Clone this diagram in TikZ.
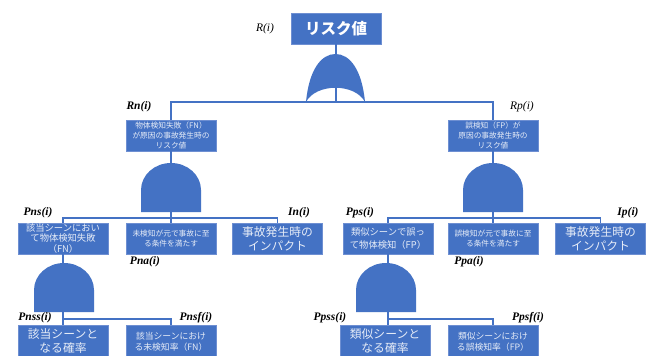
\documentclass[tikz,border=0pt]{standalone}
\usepackage{fontspec}
\setmainfont{Liberation Serif}
\newfontfamily\jp{Noto Sans CJK JP}
\definecolor{gblue}{HTML}{4472C4}
\definecolor{gedge}{HTML}{6E8FD2}
\definecolor{gtext}{HTML}{E6ECF7}
\begin{document}
\begin{tikzpicture}[x=1pt,y=-1pt,
  box/.style={fill=gblue,draw=gedge,line width=0.6pt,minimum width=90pt,minimum height=31pt,inner sep=0pt,align=center,text=gtext,font=\jp},
  tinybox/.style={box,font=\jp\fontsize{7.7}{9.6}\selectfont},
  midbox/.style={box,font=\jp\fontsize{9.3}{10.6}\selectfont},
  bigbox/.style={box,font=\jp\fontsize{11.8}{14}\selectfont},
  lowbox/.style={box,minimum height=33pt,font=\jp\fontsize{8.8}{11.5}\selectfont},
  conn/.style={draw=gblue,line width=1.7pt},
  gate/.style={fill=gblue},
  lbl/.style={font=\fontsize{11.5}{13}\selectfont\bfseries\itshape,inner sep=0pt},
  lblr/.style={font=\fontsize{11.5}{13}\selectfont\itshape,inner sep=0pt}]
\useasboundingbox (0,0) rectangle (648,356);
\fill[white] (0,0) rectangle (648,356);

% nodes
\node[box,font=\jp\bfseries\fontsize{15.5}{17}\selectfont,text=white] (R) at (336,28.5) {リスク値};
\node[tinybox] (Rn) at (171,135.5) {物体検知失敗（FN）\\が原因の事故発生時の\\リスク値};
\node[tinybox] (Rp) at (493,135.5) {誤検知（FP）が\\原因の事故発生時の\\リスク値};
\node[midbox] (Pns) at (63,238.5) {該当シーンにおい\\て物体検知失敗\\（FN）};
\node[tinybox] (Pna) at (171,238.5) {未検知が元で事故に至\\る条件を満たす};
\node[bigbox] (In) at (277.5,238.5) {事故発生時の\\インパクト};
\node[midbox,font=\jp\fontsize{9.3}{12.5}\selectfont] (Pps) at (388,238.5) {類似シーンで誤っ\\て物体検知（FP）};
\node[tinybox] (Ppa) at (493,238.5) {誤検知が元で事故に至\\る条件を満たす};
\node[bigbox] (Ip) at (600.5,238.5) {事故発生時の\\インパクト};
\node[bigbox,minimum height=33pt] (Pnss) at (63,341.5) {該当シーンと\\なる確率};
\node[lowbox] (Pnsf) at (171,341.5) {該当シーンにおけ\\る未検知率（FN）};
\node[bigbox,minimum height=33pt] (Ppss) at (385,341.5) {類似シーンと\\なる確率};
\node[lowbox] (Ppsf) at (493,341.5) {類似シーンにおけ\\る誤検知率（FP）};

% junction coordinates
\coordinate (j0) at (335.5,102);
\coordinate (j1) at (171,218);
\coordinate (j2) at (493,218);
\coordinate (j3) at (63,319);
\coordinate (j4) at (386,319);

% connectors
\draw[conn] (R.south) -- (R.south |- j0);
\draw[conn] (Rn.north) |- (j0) -| (Rp.north);
\draw[conn] (Rn.south) -- (j1);
\draw[conn] (Pns.north) |- (j1) -| (In.north);
\draw[conn] (Pna.north) -- (Pna.north |- j1);
\draw[conn] (Rp.south) -- (j2);
\draw[conn] (Pps.north) |- (j2) -| (Ip.north);
\draw[conn] (Ppa.north) -- (Ppa.north |- j2);
\draw[conn] (Pns.south) -- (Pnss.north);
\draw[conn] (j3) -| (Pnsf.north);
\draw[conn] (Pps.south) -- (Pps.south |- j4) -- (Ppss.north -| Pps.south);
\draw[conn] (Pps.south |- j4) -| (Ppsf.north);

% OR gate
\fill[gate] (306,102) .. controls (309,70) and (321,54) .. (335.5,54)
  .. controls (350,54) and (362,70) .. (365,102)
  .. controls (355,83) and (316,83) .. cycle;
% AND gates
\foreach \cx/\top in {171/163,493/163,64/263,386/263}{
  \fill[gate] (\cx-30,\top+49) -- (\cx-30,\top+27)
    arc[start angle=180,end angle=0,x radius=30,y radius=-27] -- (\cx+30,\top+49) -- cycle;
}

% labels
\node[lblr] (lR) at (265,29) {R(i)};
\node[lbl] (lRn) at (139,107) {Rn(i)};
\node[lblr] (lRp) at (522,107) {Rp(i)};
\node[lbl] (lPns) at (38,213) {Pns(i)};
\node[lbl] (lPna) at (145,262) {Pna(i)};
\node[lbl] (lIn) at (299,213) {In(i)};
\node[lbl] (lPps) at (360,213) {Pps(i)};
\node[lbl] (lPpa) at (469,262) {Ppa(i)};
\node[lbl] (lIp) at (628,213) {Ip(i)};
\node[lbl] (lPnss) at (35,318) {Pnss(i)};
\node[lbl] (lPnsf) at (196,318) {Pnsf(i)};
\node[lbl] (lPpss) at (330,318) {Ppss(i)};
\node[lbl] (lPpsf) at (528,318) {Ppsf(i)};
\end{tikzpicture}
\end{document}
